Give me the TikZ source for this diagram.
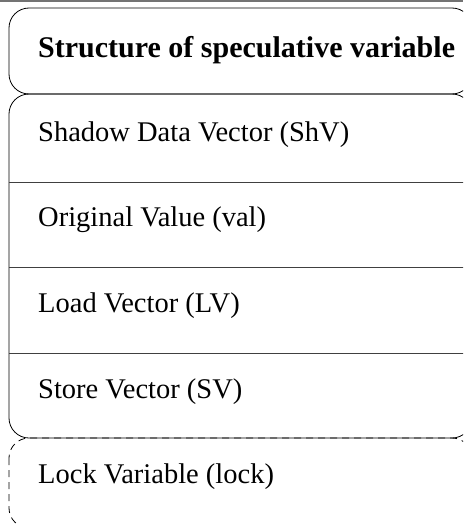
\documentclass[tikz,border=0pt]{standalone}
\usepackage{fontspec}
\setmainfont{Liberation Serif}
\begin{document}
\begin{tikzpicture}[x=1pt,y=-1pt,
  frame/.style={draw=black, line width=0.8pt, rounded corners=20pt},
  lockframe/.style={frame, dash pattern=on 7pt off 5pt},
  divider/.style={draw=black!75, line width=1pt},
  rule/.style={draw=black!55, line width=1.6pt},
  field/.style={anchor=base west, inner sep=0pt, font=\fontsize{28.5}{34}\selectfont},
  heading/.style={anchor=base west, inner sep=0pt, font=\fontsize{30}{36}\selectfont\bfseries}]
\useasboundingbox (0,0) rectangle (463,524);
\clip (0,0) rectangle (463,524);
% rule along the top edge
\draw[rule] (0,1) -- (463,1);
% heading box
\draw[frame] (9,8) rectangle (472,94);
\node[heading] (title) at (38,58) {Structure of speculative variable};
% box holding the four vectors/values
\draw[frame] (9,94) rectangle (472,438);
\coordinate (d1l) at (9,182);  \coordinate (d1r) at (472,182);
\coordinate (d2l) at (9,267);  \coordinate (d2r) at (472,267);
\coordinate (d3l) at (9,353);  \coordinate (d3r) at (472,353);
\draw[divider] (d1l) -- (d1r);
\draw[divider] (d2l) -- (d2r);
\draw[divider] (d3l) -- (d3r);
\node[field] (shv)  at (38,141) {Shadow Data Vector (ShV)};
\node[field] (val)  at (38,226) {Original Value (val)};
\node[field] (lv)   at (38,312) {Load Vector (LV)};
\node[field] (sv)   at (38,398) {Store Vector (SV)};
% optional lock field, dashed
\draw[lockframe] (9,438) rectangle (472,528);
\node[field] (lock) at (38,483) {Lock Variable (lock)};
\end{tikzpicture}
\end{document}
